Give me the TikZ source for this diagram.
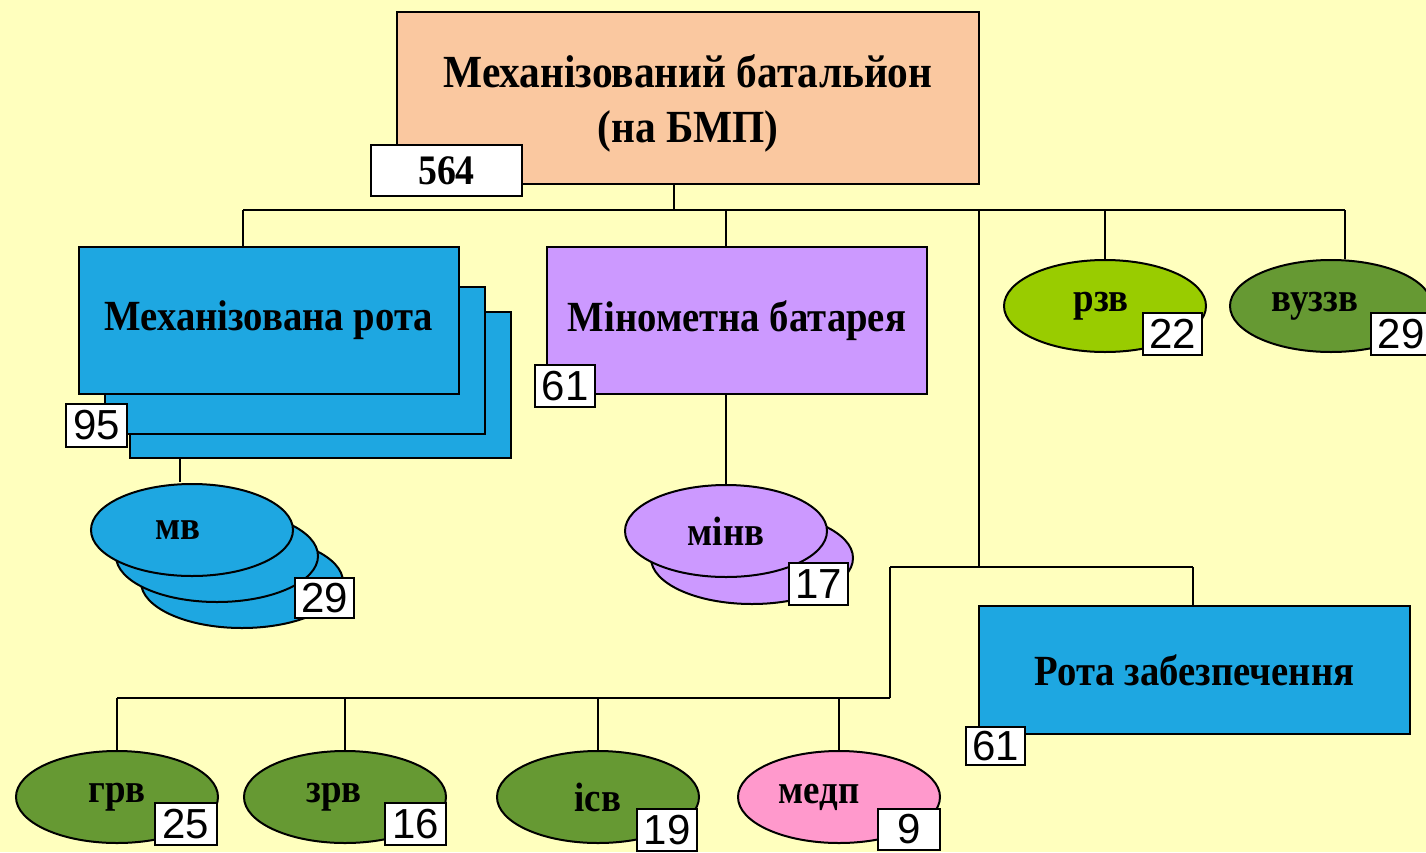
\documentclass[tikz,border=0pt]{standalone}
\usepackage{fontspec}
\setmainfont{Liberation Serif}
\newfontfamily\numfont{Liberation Sans}
\newfontfamily\titlefont[FakeStretch=0.9]{Liberation Serif}
\usetikzlibrary{shapes.geometric}
\definecolor{bgyellow}{RGB}{255,255,190}
\definecolor{peach}{RGB}{250,200,160}
\definecolor{unitblue}{RGB}{30,167,225}
\definecolor{lavender}{RGB}{204,153,255}
\definecolor{ygreen}{RGB}{153,204,0}
\definecolor{olive}{RGB}{102,153,51}
\definecolor{pinkc}{RGB}{255,153,204}
\tikzset{
  unitbox/.style={draw=black, line width=2.4pt, rectangle, inner sep=0pt, align=center,
    font=\titlefont\bfseries\fontsize{43}{55}\selectfont},
  plainbox/.style={draw=black, line width=2.4pt},
  unitell/.style={draw=black, line width=2pt, ellipse, minimum width=202pt, minimum height=92pt, inner sep=0pt,
    font=\titlefont\bfseries\fontsize{41}{44}\selectfont},
  numbox/.style={draw=black, line width=1.6pt, fill=white, rectangle, inner sep=0pt,
    minimum width=60pt, minimum height=42pt, font=\numfont\fontsize{42}{44}\selectfont},
  conn/.style={draw=black, line width=2.4pt}
}
\begin{document}
\begin{tikzpicture}[x=1pt,y=-1pt]
\useasboundingbox (0,0) rectangle (1426,852);
\clip (0,0) rectangle (1426,852);
\fill[bgyellow] (0,0) rectangle (1426,852);

% top battalion
\node[unitbox, fill=peach, minimum width=582pt, minimum height=172pt] (bat) at (688,98) {};
\node[align=center, inner sep=0pt, font=\titlefont\bfseries\fontsize{46}{55}\selectfont] (battitle) at (688,103)
  {Механізований батальйон\\(на БМП)};
\node[numbox, minimum width=151pt, minimum height=51pt, font=\titlefont\bfseries\fontsize{42}{44}\selectfont] (n564) at (446.5,170.5) {564};

% mechanised company stack
\node[plainbox, fill=unitblue, minimum width=381pt, minimum height=146pt] (rota3) at (320.5,385) {};
\node[plainbox, fill=unitblue, minimum width=380pt, minimum height=147pt] (rota2) at (295,360.5) {};
\node[unitbox, fill=unitblue, minimum width=380pt, minimum height=147pt] (rota1) at (269,320.5) {Механізована рота};
\node[numbox, minimum width=61pt, minimum height=43pt] (n95) at (96.5,425.5) {95};

% mortar battery
\node[unitbox, fill=lavender, minimum width=380pt, minimum height=147pt] (minb) at (737,320.5) {Мінометна батарея};
\node[numbox] (n61a) at (565,386) {61};

% platoons under mech company
\node[unitell, fill=unitblue] (mv3) at (242,582) {};
\node[unitell, fill=unitblue] (mv2) at (217,556) {};
\node[unitell, fill=unitblue] (mv1) at (192,530) {\hspace*{-28pt}мв};
\node[numbox, minimum width=59pt, minimum height=40pt] (n29a) at (324.5,598) {29};

% mortar platoons
\node[unitell, fill=lavender] (minv2) at (752,558) {};
\node[unitell, fill=lavender] (minv1) at (726,531) {мінв};
\node[numbox, minimum width=59pt] (n17) at (818.5,584) {17};

% right ellipses
\node[unitell, fill=ygreen] (rzv) at (1105,306) {\hspace*{-8pt}\raisebox{3pt}{рзв}};
\node[numbox, minimum width=59pt] (n22) at (1172.5,334) {22};
\node[unitell, fill=olive] (vuz) at (1331,306) {\hspace*{-32pt}\raisebox{3pt}{вуззв}};
\node[numbox] (n29b) at (1401,334) {29};

% support company
\node[unitbox, fill=unitblue, minimum width=431pt, minimum height=128pt] (rz) at (1194.5,670) {Рота забезпечення};
\node[numbox, minimum width=59pt, minimum height=38pt] (n61b) at (995.5,746) {61};

% bottom ellipses
\node[unitell, fill=olive] (grv) at (117,797) {\raisebox{6pt}{грв}};
\node[numbox, minimum width=62pt] (n25) at (186,824) {25};
\node[unitell, fill=olive] (zrv) at (345,797) {\hspace*{-22pt}\raisebox{6pt}{зрв}};
\node[numbox, minimum width=61pt] (n16) at (415.5,824) {16};
\node[unitell, fill=olive] (isv) at (598,797) {ісв};
\node[numbox] (n19) at (667,830) {19};
\node[unitell, fill=pinkc] (medp) at (839,797) {\hspace*{-40pt}\raisebox{6pt}{медп}};
\node[numbox, minimum width=62pt, minimum height=41pt] (n9) at (909,829.5) {9};

% connectors
\coordinate (j0) at (674,210);
\coordinate (bus1L) at (243,210);
\coordinate (bus1R) at (1345,210);
\coordinate (dm) at (726,210);
\coordinate (dr) at (1105,210);
\coordinate (dz) at (979,210);
\coordinate (k) at (979,567);
\coordinate (b2L) at (890,567);
\coordinate (b2R) at (1193,567);
\coordinate (b3R) at (890,698);
\coordinate (b3L) at (117,698);
\coordinate (b3a) at (345,698);
\coordinate (b3b) at (598,698);
\coordinate (b3c) at (839,698);
\coordinate (dmv) at (180,458);

\draw[conn] (j0 |- bat.south) -- (j0);
\draw[conn] (bus1L) -- (bus1R);
\draw[conn] (bus1L) -- (bus1L |- rota1.north);
\draw[conn] (dm) -- (dm |- minb.north);
\draw[conn] (dr) -- (rzv.north);
\draw[conn] (bus1R) -- (bus1R |- vuz.north);
\draw[conn] (dz) -- (k);
\draw[conn] (b2L) -- (b2R);
\draw[conn] (b2R) -- (b2R |- rz.north);
\draw[conn] (b2L) -- (b3R);
\draw[conn] (b3L) -- (b3R);
\draw[conn] (b3L) -- (grv.north);
\draw[conn] (b3a) -- (zrv.north);
\draw[conn] (b3b) -- (isv.north);
\draw[conn] (b3c) -- (medp.north);
\draw[conn] (dmv |- rota3.south) -- ([yshift=1pt]dmv |- mv1.north);
\draw[conn] (dm |- minb.south) -- (minv1.north);
\end{tikzpicture}
\end{document}
